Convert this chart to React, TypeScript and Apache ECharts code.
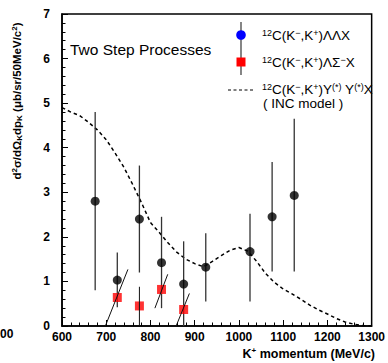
import React, { useEffect, useRef } from "react";
import * as echarts from "echarts";

// K+ momentum bins (MeV/c) and measured cross sections, ΛΛ channel
const llMomentum = [675, 725, 775, 825, 875, 925, 1025, 1075, 1125];
const llValue = [2.8, 1.03, 2.4, 1.42, 0.94, 1.32, 1.67, 2.45, 2.93];
const llLow = [0.8, 0.42, 1.2, 0.4, 0.0, 0.55, 0.55, 1.22, 1.22];
const llHigh = [4.8, 1.65, 3.6, 2.45, 1.9, 2.08, 2.52, 3.68, 4.65];

// ΛΣ− channel; its error bars are drawn tilted, from (lowX, low) to (highX, high)
const lsMomentum = [725, 775, 825, 875];
const lsValue = [0.64, 0.45, 0.82, 0.37];
const lsLow = [0.0, 0.01, 0.4, 0.0];
const lsHigh = [1.27, 0.88, 1.16, 0.73];
const lsLowX = [698, 775, 810, 858];
const lsHighX = [749, 775, 839, 888];

// INC model prediction
const incMomentum = [
  600, 620, 640, 660, 680, 700, 720, 740, 760, 780, 800, 820, 840, 860, 880, 900,
  920, 940, 960, 980, 1000, 1020, 1040, 1060, 1080, 1100, 1120, 1140, 1160, 1180,
  1200, 1220, 1240, 1260, 1280, 1300,
];
const incValue = [
  4.9, 4.8, 4.72, 4.57, 4.4, 4.18, 3.88, 3.56, 3.17, 2.76, 2.32, 2.1, 1.86, 1.65,
  1.5, 1.4, 1.33, 1.45, 1.58, 1.7, 1.76, 1.68, 1.45, 1.18, 0.98, 0.83, 0.72, 0.6,
  0.47, 0.36, 0.27, 0.17, 0.09, 0.04, 0.01, 0,
];

const xTicks = { min: 600, max: 1300, step: 100 };
const yTicks = { min: 0, max: 7, step: 1 };

const FONT = "'Liberation Sans', Arial, Helvetica, sans-serif";

export default function App() {
  const ref = useRef<HTMLDivElement>(null);

  useEffect(() => {
    if (!ref.current) return;
    const chart = echarts.init(ref.current, undefined, { renderer: "svg" });

    const supRich = {
      sup: { fontSize: 9, fontFamily: FONT, verticalAlign: "top", lineHeight: 13, color: "#000" },
      base: { fontSize: 13.5, fontFamily: FONT, lineHeight: 13, color: "#000" },
    };

    chart.setOption({
      animation: false,
      backgroundColor: "#fff",
      grid: {
        left: 62,
        right: 12,
        top: 14,
        bottom: 37,
        show: true,
        borderColor: "#000",
        borderWidth: 1.5,
        backgroundColor: "transparent",
      },
      xAxis: {
        type: "value",
        min: xTicks.min,
        max: xTicks.max,
        interval: xTicks.step,
        axisLine: { lineStyle: { color: "#000", width: 1.5 } },
        axisTick: { inside: true, length: 6, lineStyle: { color: "#000", width: 1 } },
        minorTick: { show: true, splitNumber: 5, length: 3.5, lineStyle: { color: "#000", width: 1 } },
        splitLine: { show: false },
        axisLabel: {
          margin: 5,
          fontSize: 12,
          fontWeight: "bold",
          fontFamily: FONT,
          color: "#000",
          formatter: (v: number) => String(v),
        },
      },
      yAxis: {
        type: "value",
        min: yTicks.min,
        max: yTicks.max,
        interval: yTicks.step,
        axisLine: { show: true, lineStyle: { color: "#000", width: 1.5 } },
        axisTick: { show: true, inside: true, length: 6, lineStyle: { color: "#000", width: 1 } },
        minorTick: { show: true, splitNumber: 5, length: 3.5, lineStyle: { color: "#000", width: 1 } },
        splitLine: { show: false },
        axisLabel: {
          margin: 12,
          fontSize: 12,
          fontWeight: "bold",
          fontFamily: FONT,
          color: "#000",
          formatter: (v: number) => String(v),
        },
      },
      series: [
        {
          name: "INC",
          type: "line",
          data: incMomentum.map((x, i) => [x, incValue[i]]),
          symbol: "none",
          smooth: false,
          lineStyle: { color: "#000", width: 1.5, type: [3.5, 3] },
          z: 2,
        },
        {
          name: "llErr",
          type: "custom",
          data: llMomentum.map((x, i) => [x, llLow[i], llHigh[i]]),
          encode: { x: 0, y: [1, 2] },
          renderItem: (params: any, api: any) => {
            const x = api.value(0);
            const a = api.coord([x, api.value(1)]);
            const b = api.coord([x, api.value(2)]);
            return {
              type: "line",
              shape: { x1: a[0], y1: a[1], x2: b[0], y2: b[1] },
              style: { stroke: "#333", lineWidth: 1.3 },
            };
          },
          z: 3,
        },
        {
          name: "ll",
          type: "scatter",
          data: llMomentum.map((x, i) => [x, llValue[i]]),
          symbol: "circle",
          symbolSize: 9,
          itemStyle: { color: "#000" },
          z: 4,
        },
        {
          name: "ls",
          type: "scatter",
          data: lsMomentum.map((x, i) => [x, lsValue[i]]),
          symbol: "rect",
          symbolSize: 9,
          itemStyle: { color: "#ff0000" },
          z: 5,
        },
        {
          name: "lsErr",
          type: "custom",
          data: lsMomentum.map((_, i) => [lsLowX[i], lsLow[i], lsHighX[i], lsHigh[i]]),
          encode: { x: [0, 2], y: [1, 3] },
          renderItem: (params: any, api: any) => {
            const a = api.coord([api.value(0), api.value(1)]);
            const b = api.coord([api.value(2), api.value(3)]);
            return {
              type: "line",
              shape: { x1: a[0], y1: a[1], x2: b[0], y2: b[1] },
              style: { stroke: "#111", lineWidth: 1 },
            };
          },
          z: 6,
        },
      ],
      graphic: [
        {
          type: "text",
          left: 70,
          top: 41,
          style: {
            text: "Two Step Processes",
            fontSize: 15.5,
            fontFamily: FONT,
            fill: "#000",
          },
        },
        // legend markers
        {
          type: "line",
          shape: { x1: 241, y1: 22, x2: 241, y2: 75 },
          style: { stroke: "#444", lineWidth: 1.3 },
        },
        { type: "circle", shape: { cx: 241, cy: 35, r: 4.8 }, style: { fill: "#0000ff" } },
        { type: "rect", shape: { x: 236.5, y: 57.5, width: 9, height: 9 }, style: { fill: "#ff0000" } },
        {
          type: "line",
          shape: { x1: 228, y1: 90, x2: 254, y2: 90 },
          style: { stroke: "#000", lineWidth: 1, lineDash: [3, 2.5] },
        },
        {
          type: "text",
          x: 262,
          y: 35,
          style: {
            text: "{sup|12}{base|C(K}{sup|−}{base|,K}{sup|+}{base|)ΛΛX}",
            rich: supRich,
            verticalAlign: "middle",
          },
        },
        {
          type: "text",
          x: 262,
          y: 62,
          style: {
            text: "{sup|12}{base|C(K}{sup|−}{base|,K}{sup|+}{base|)ΛΣ}{sup|−}{base|X}",
            rich: supRich,
            verticalAlign: "middle",
          },
        },
        {
          type: "text",
          x: 262,
          y: 89,
          style: {
            text: "{sup|12}{base|C(K}{sup|−}{base|,K}{sup|+}{base|)Y}{sup|(*)}{base| Y}{sup|(*)}{base|X}",
            rich: supRich,
            verticalAlign: "middle",
          },
        },
        {
          type: "text",
          x: 263,
          y: 103,
          style: {
            text: "( INC model )",
            fontSize: 13.5,
            lineHeight: 12,
            fontFamily: FONT,
            fill: "#000",
            verticalAlign: "middle",
          },
        },
        // y-axis title
        {
          type: "text",
          x: 17,
          y: 101,
          rotation: Math.PI / 2,
          style: {
            text: "{b|d}{s|2}{b|σ/dΩ}{d|K}{b|dp}{d|K}{b| (μb/sr/50MeV/c}{s|2}{b|)}",
            align: "center",
            verticalAlign: "middle",
            rich: {
              b: { fontSize: 11.5, fontWeight: "bold", fontFamily: FONT, lineHeight: 13, color: "#000" },
              s: { fontSize: 8, fontWeight: "bold", fontFamily: FONT, lineHeight: 13, verticalAlign: "top", color: "#000" },
              d: { fontSize: 8, fontWeight: "bold", fontFamily: FONT, lineHeight: 13, verticalAlign: "bottom", color: "#000" },
            },
          },
        },
        // x-axis title
        {
          type: "text",
          x: 375,
          y: 354,
          style: {
            text: "{b|K}{s|+}{b| momentum (MeV/c)}",
            align: "right",
            verticalAlign: "middle",
            rich: {
              b: { fontSize: 12.5, fontWeight: "bold", fontFamily: FONT, lineHeight: 15, color: "#000" },
              s: { fontSize: 8, fontWeight: "bold", fontFamily: FONT, lineHeight: 15, verticalAlign: "top", color: "#000" },
            },
          },
        },
        // clipped label at the left edge
        {
          type: "text",
          x: 0,
          y: 334,
          style: {
            text: "00",
            fontSize: 12,
            fontWeight: "bold",
            fontFamily: FONT,
            fill: "#000",
            verticalAlign: "middle",
          },
        },
      ],
    });

    return () => chart.dispose();
  }, []);

  return (
    <div
      ref={ref}
      style={{ position: "fixed", left: 0, top: 0, width: 388, height: 363 }}
    />
  );
}
